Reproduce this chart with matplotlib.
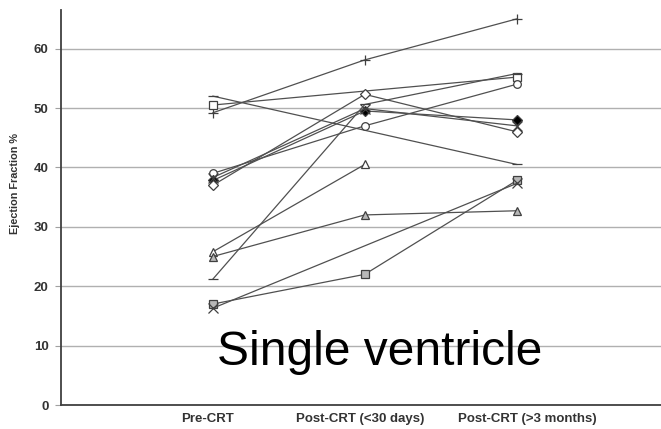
import numpy as np
import matplotlib
matplotlib.use("Agg")
import matplotlib.pyplot as plt
import matplotlib.transforms as mtransforms

plt.rcParams['font.family'] = ['Liberation Sans', 'DejaVu Sans']

# time points
stages = ['Pre-CRT', 'Post-CRT (<30 days)', 'Post-CRT (>3 months)']

# ejection fraction per patient (nan = not measured)
ef_plus     = [49.2, 58.1, 65.0]
ef_dash_hi  = [52.0, np.nan, 40.5]
ef_sq_hi    = [50.5, np.nan, 55.2]
ef_circle   = [39.0, 47.0, 54.0]
ef_filled   = [37.8, 49.5, 48.0]
ef_diamond  = [37.0, 52.3, 46.0]
ef_x_hi     = [38.3, 49.9, 47.0]
ef_tri_hi   = [25.8, 40.5, np.nan]
ef_tri_lo   = [25.0, 32.0, 32.7]
ef_dash_lo  = [21.2, 50.6, 55.8]
ef_sq_lo    = [17.0, 22.0, 37.8]
ef_x_lo     = [16.3, np.nan, 37.3]

patients = [
    (ef_plus, '+', 'none'),
    (ef_dash_hi, '_', 'none'),
    (ef_sq_hi, 's', 'white'),
    (ef_circle, 'o', 'white'),
    (ef_filled, 'D', 'black'),
    (ef_diamond, 'D', 'white'),
    (ef_x_hi, 'x', 'none'),
    (ef_tri_hi, '^', 'white'),
    (ef_tri_lo, '^', '#b8b8b8'),
    (ef_dash_lo, '_', 'none'),
    (ef_sq_lo, 's', '#b8b8b8'),
    (ef_x_lo, 'x', 'none'),
]

fig = plt.figure(figsize=(6.61, 4.29), dpi=100)
ax = fig.add_axes([61/661, 24/429, 600/661, 395/429])

x = np.arange(len(stages))
for vals, mk, fc in patients:
    v = np.array(vals, dtype=float)
    ok = ~np.isnan(v)
    ms = 7 if mk in ('+', 'x', '_') else 5.5
    if mk == 'D':
        ms = 5
    ax.plot(x[ok], v[ok], color='#505050', lw=0.9, marker=mk, ms=ms,
            mfc=fc, mec='#404040', mew=0.9, zorder=3)

ax.set_xlim(-1.0, 2.95)
ax.set_ylim(0, 66.5)
ax.set_yticks(range(0, 61, 10))
ax.set_xticks(x)
ax.set_xticklabels(stages)
ax.yaxis.grid(True, color='#b0b0b0', lw=1.0)
ax.set_axisbelow(True)
for s in ('top', 'right'):
    ax.spines[s].set_visible(False)
for s in ('left', 'bottom'):
    ax.spines[s].set_color('#404040')
    ax.spines[s].set_linewidth(1.3)
ax.tick_params(axis='y', length=4, color='#a0a0a0', labelsize=9.5, pad=5,
               labelcolor='#333333')
ax.tick_params(axis='x', length=0, labelsize=9.5, pad=6, labelcolor='#333333')
for lab in ax.get_xticklabels() + ax.get_yticklabels():
    lab.set_fontweight('bold')

# nudge the category labels sideways a little
shifts = [-5, -5, 11]
for lab, dx in zip(ax.get_xticklabels(), shifts):
    off = mtransforms.ScaledTranslation(dx / 100, 0, fig.dpi_scale_trans)
    lab.set_transform(lab.get_transform() + off)

ax.set_ylabel('Ejection Fraction %', fontsize=7.8, fontweight='bold',
              color='#333333')
ax.yaxis.set_label_coords(-0.068, 0.56)

ax.text(1.1, 6.8, 'Single ventricle', fontsize=34.5, ha='center',
        va='baseline', color='black')

fig.savefig('out.png', dpi=100)
